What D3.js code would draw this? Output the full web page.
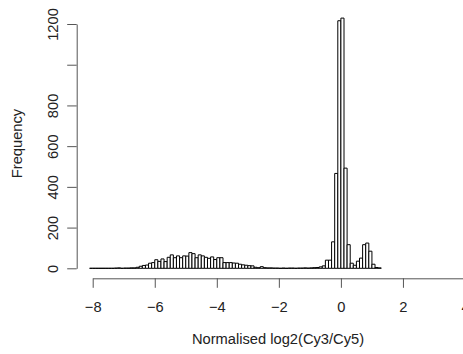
<!DOCTYPE html>
<html>
<head>
<meta charset="utf-8">
<script src="https://cdn.jsdelivr.net/npm/d3@7"></script>
<style>
  body { margin: 0; background: #fff; }
  text { font-family: "Liberation Sans", Arial, sans-serif; fill: #222; }
</style>
</head>
<body>
<div id="chart"></div>
<script>
////////////////////////////////////////////////////////////////////////
// Data: histogram of normalised log2 ratios, bins of width 0.1

// left edge of first bin and bin width
let firstBin = -8.1;
let binWidth = 0.1;

// counts per bin, from -8.1 up to 1.3
let counts = [
  0, 0, 0, 0, 0, 0, 0, 0, 1, 2,          // -8.1 .. -7.2
  0, 1, 1, 2, 2, 5, 10, 14, 16, 25,      // -7.1 .. -6.2
  28, 42, 34, 46, 33, 54, 66, 52, 61, 52, // -6.1 .. -5.2
  61, 60, 77, 72, 52, 66, 61, 54, 49, 56, // -5.1 .. -4.2
  43, 52, 52, 28, 28, 28, 26, 25, 20, 17, // -4.1 .. -3.2
  15, 13, 12, 5, 3, 8, 3, 2, 2, 1,        // -3.1 .. -2.2
  1, 0, 1, 0, 1, 1, 0, 1, 1, 2,           // -2.1 .. -1.2
  1, 2, 3, 4, 7, 12, 40, 40, 130, 466,    // -1.1 .. -0.2
  1216, 1229, 492, 116, 25, 15, 35, 50, 116, 124, // -0.1 .. 0.8
  84, 20, 4, 2                            // 0.9 .. 1.2
];

let xTicks = [-8, -6, -4, -2, 0, 2, 4];
let yTicks = [0, 200, 400, 600, 800, 1000, 1200];
let yTickLabels = ["0", "200", "400", "600", "800", "", "1200"];

let xTitle = "Normalised log2(Cy3/Cy5)";
let yTitle = "Frequency";

////////////////////////////////////////////////////////////////////////
// svg and scales

let width = 463;
let height = 354;

let svg = d3.select("#chart")
  .append("svg")
  .attr("width", width).attr("height", height);

let xScale = d3.scaleLinear()
  .domain([-8, 4])
  .range([92.7, 465]);

let yScale = d3.scaleLinear()
  .domain([0, 1200])
  .range([268.3, 24]);

let bins = counts.map(function(c, i) {
  let x0 = (firstBin * 10 + i) / 10;
  return { x0: x0, x1: x0 + binWidth, count: c };
});

////////////////////////////////////////////////////////////////////////
// bars, drawn as closed paths so empty bins still show on the baseline

svg.append("g")
  .selectAll(".bar")
  .data(bins)
  .enter()
  .append("path")
  .attr("class", "bar")
  .attr("d", function(d) {
    let x0 = xScale(d.x0), x1 = xScale(d.x1);
    let y0 = yScale(0), y1 = yScale(d.count);
    return "M" + x0 + "," + y0 + "V" + y1 + "H" + x1 + "V" + y0 + "Z";
  })
  .style("fill", "#fff")
  .style("stroke", "#000")
  .style("stroke-width", 1);

////////////////////////////////////////////////////////////////////////
// axes

let xAxis = d3.axisBottom(xScale)
  .tickValues(xTicks)
  .tickSize(9.5)
  .tickSizeOuter(0)
  .tickPadding(14);

let gx = svg.append("g")
  .attr("transform", "translate(0,278.3)")
  .call(xAxis);
gx.selectAll("text").style("font-size", "14.7px");

let yAxis = d3.axisLeft(yScale)
  .tickValues(yTicks)
  .tickSize(9.5)
  .tickSizeOuter(0)
  .tickFormat(function(d, i) { return yTickLabels[i]; });

let gy = svg.append("g")
  .attr("transform", "translate(76.7,0)")
  .call(yAxis);
gy.selectAll("text")
  .attr("x", null).attr("dy", null)
  .attr("transform", "translate(-18.5,0) rotate(-90)")
  .attr("text-anchor", "middle")
  .style("font-size", "14.7px");

svg.selectAll(".domain, .tick line")
  .style("stroke", "#555")
  .style("stroke-width", 1);

// axis titles
svg.append("text")
  .attr("x", 278)
  .attr("y", 344)
  .attr("text-anchor", "middle")
  .style("font-size", "14.7px")
  .text(xTitle);

svg.append("text")
  .attr("transform", "translate(21.5,143.5) rotate(-90)")
  .attr("text-anchor", "middle")
  .style("font-size", "14.7px")
  .text(yTitle);
</script>
</body>
</html>
